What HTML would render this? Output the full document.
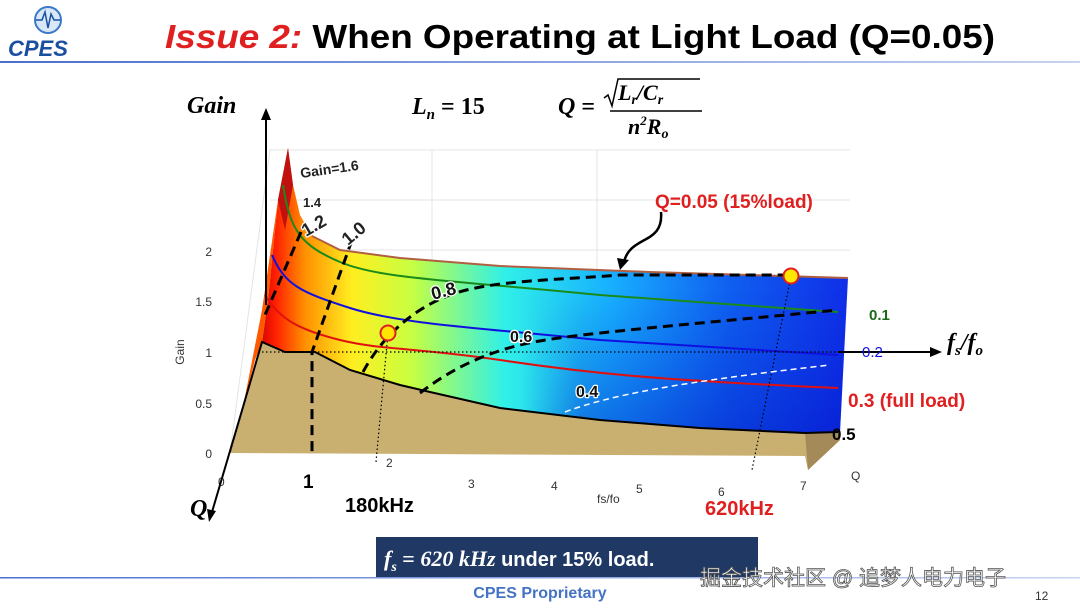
<!DOCTYPE html>
<html><head><meta charset="utf-8"><style>
body{margin:0;width:1080px;height:608px;background:#fff;overflow:hidden;font-family:"Liberation Sans",sans-serif}
</style></head><body>
<svg width="1080" height="608" viewBox="0 0 1080 608" xmlns="http://www.w3.org/2000/svg">
<defs>
<linearGradient id="sg" gradientUnits="userSpaceOnUse" x1="258" y1="0" x2="845" y2="0">
<stop offset="0" stop-color="#d00000"/><stop offset="0.03" stop-color="#ff2000"/>
<stop offset="0.08" stop-color="#ff9000"/><stop offset="0.16" stop-color="#ffee20"/>
<stop offset="0.26" stop-color="#c8ff40"/><stop offset="0.42" stop-color="#30f0e8"/>
<stop offset="0.6" stop-color="#18b0ff"/><stop offset="0.8" stop-color="#1060f0"/>
<stop offset="1" stop-color="#1030e8"/></linearGradient>
<linearGradient id="vg" gradientUnits="userSpaceOnUse" x1="0" y1="290" x2="0" y2="435">
<stop offset="0" stop-color="#0020d0" stop-opacity="0"/><stop offset="1" stop-color="#0010c0" stop-opacity="0.45"/></linearGradient>
<linearGradient id="hm" gradientUnits="userSpaceOnUse" x1="258" y1="0" x2="845" y2="0">
<stop offset="0" stop-color="#fff" stop-opacity="0"/><stop offset="0.45" stop-color="#fff" stop-opacity="0"/><stop offset="0.55" stop-color="#fff" stop-opacity="1"/><stop offset="1" stop-color="#fff" stop-opacity="1"/></linearGradient>
<mask id="mk"><rect x="0" y="0" width="1080" height="608" fill="url(#hm)"/></mask>
<linearGradient id="hl" x1="0" x2="1"><stop offset="0" stop-color="#4a6fd0"/><stop offset="1" stop-color="#c8d4f0"/></linearGradient>
</defs>
<rect x="0" y="61" width="1080" height="2" fill="url(#hl)"/>
<circle cx="48" cy="20" r="13" fill="#d8e8f8" stroke="#3a78c8" stroke-width="2"/>
<path d="M36 20 L42 20 L45 12 L48 28 L51 14 L54 20 L60 20" fill="none" stroke="#1a4fa0" stroke-width="1.5"/>
<text x="8" y="56" font-size="22" font-style="italic" fill="#1a4fa0" font-weight="bold">CPES</text>
<text x="165" y="48" font-size="33" font-weight="bold" textLength="830" lengthAdjust="spacingAndGlyphs"><tspan fill="#e02020" font-style="italic">Issue 2: </tspan><tspan fill="#000">When Operating at  Light Load (Q=0.05)</tspan></text>
<g font-family="Liberation Serif,serif" font-weight="bold" font-style="italic" font-size="24">
<text x="187" y="113">Gain</text>
<text x="412" y="114">L<tspan font-size="15" dy="5">n</tspan><tspan dy="-5" font-style="normal"> = 15</tspan></text>
<text x="558" y="114">Q <tspan font-style="normal">=</tspan></text>
<text x="618" y="100" font-size="22">L<tspan font-size="14" dy="4">r</tspan><tspan dy="-4">/C</tspan><tspan font-size="14" dy="4">r</tspan></text>
<text x="628" y="134" font-size="22">n<tspan font-size="13" dy="-9">2</tspan><tspan dy="9">R</tspan><tspan font-size="14" dy="4">o</tspan></text>
<text x="190" y="516">Q</text>
<text x="947" y="350">f<tspan font-size="15" dy="5">s</tspan><tspan dy="-5">/f</tspan><tspan font-size="15" dy="5">o</tspan></text>
</g>
<path d="M604 98 L608 95 L612 106 L618 79 L700 79" fill="none" stroke="#000" stroke-width="1.5"/>
<line x1="610" y1="111" x2="702" y2="111" stroke="#000" stroke-width="1.5"/>
<g stroke="#e4e4e4" stroke-width="1" fill="none">
<path d="M230 453 L270 150 L850 150"/><path d="M432 150 L432 280"/><path d="M597 150 L597 270"/><path d="M270 250 L850 250"/><path d="M270 200 L850 200"/>
</g>
<g font-size="12" fill="#333" text-anchor="end">
<text x="212" y="256">2</text><text x="212" y="306">1.5</text><text x="212" y="357">1</text><text x="212" y="408">0.5</text><text x="212" y="458">0</text>
</g>
<text x="184" y="352" font-size="12" fill="#333" transform="rotate(-90 184 352)" text-anchor="middle">Gain</text>
<g font-size="12" fill="#333">
<text x="218" y="486">0</text><text x="386" y="467">2</text><text x="468" y="488">3</text><text x="551" y="490">4</text><text x="636" y="493">5</text><text x="718" y="496">6</text><text x="800" y="490">7</text>
<text x="597" y="503">fs/fo</text><text x="851" y="480">Q</text>
</g>
<polygon points="230,453 243,407 262,342 285,352 315,352 350,370 400,385 430,392 500,408 600,420 700,428 805,433 838,410 840,440 808,470 805,456" fill="#c9b071"/>
<polygon points="805,433 838,410 840,440 808,470" fill="#a38a58"/>
<path d="M262,342 L268,300 L278,200 L288,148 L293,185 L300,215 L312,236 L340,250 L400,258 L500,266 L650,272 L848,278 L840,432 L805,433 L700,428 L600,420 L500,408 L430,392 L400,385 L350,370 L315,352 L285,352 Z" fill="url(#sg)"/>
<path d="M262,342 L268,300 L278,200 L288,148 L293,185 L300,215 L312,236 L340,250 L400,258 L500,266 L650,272 L848,278 L840,432 L805,433 L700,428 L600,420 L500,408 L430,392 L400,385 L350,370 L315,352 L285,352 Z" fill="url(#vg)" mask="url(#mk)"/>
<path d="M243,407 L255,360 L262,342 L268,300 L278,200 L262,310 Z" fill="#ff5a00"/>
<path d="M278,200 L288,148 L293,185 L285,230 Z" fill="#c01010"/>
<path d="M312,236 L340,250 L400,258 L500,266 L650,272 L848,278" fill="none" stroke="#b06040" stroke-width="2"/>
<path d="M243,407 L262,342 L285,352 L315,352 L350,370 L400,385 L430,392 L500,408 L600,420 L700,428 L805,433 L838,432" fill="none" stroke="#000" stroke-width="2"/>
<path d="M283,185 C290,230 300,245 340,262 S450,280 600,295 L838,312" fill="none" stroke="#1a8a1a" stroke-width="2"/>
<path d="M272,255 C285,285 300,292 350,308 S480,328 600,340 L838,355" fill="none" stroke="#1010e0" stroke-width="2"/>
<path d="M265,295 C280,320 300,330 340,340 S420,348 500,360 S650,380 838,388" fill="none" stroke="#e01010" stroke-width="2"/>
<g stroke="#000" stroke-width="1.2" stroke-dasharray="1.5,2.5" fill="none">
<line x1="262" y1="352" x2="838" y2="352"/><line x1="388" y1="333" x2="376" y2="462"/><line x1="791" y1="276" x2="752" y2="470"/>
<line x1="262" y1="342" x2="230" y2="453"/>
</g>
<g fill="none" stroke="#000" stroke-width="3" stroke-dasharray="10,6">
<path d="M301,232 L265,315"/><path d="M352,240 L312,352 L312,456"/>
<path d="M363,372 C380,340 410,310 450,295 S560,280 620,275 L790,275"/>
<path d="M420,393 C450,370 480,355 520,345 S650,328 838,310"/>
</g>
<path d="M565,412 C610,395 680,382 830,365" fill="none" stroke="#fff" stroke-width="1.5" stroke-dasharray="6,4"/>
<circle cx="388" cy="333" r="7.5" fill="#ffe600" stroke="#e02020" stroke-width="2"/>
<circle cx="791" cy="276" r="7.5" fill="#ffe600" stroke="#e02020" stroke-width="2"/>
<line x1="266" y1="305" x2="266" y2="118" stroke="#000" stroke-width="2"/>
<polygon points="266,108 261,120 271,120" fill="#000"/>
<line x1="243" y1="407" x2="212" y2="512" stroke="#000" stroke-width="2"/>
<polygon points="209,522 207,509 216,511" fill="#000"/>
<line x1="838" y1="352" x2="932" y2="352" stroke="#000" stroke-width="2"/>
<polygon points="942,352 930,347 930,357" fill="#000"/>
<path d="M661,212 C664,245 630,235 624,262" fill="none" stroke="#000" stroke-width="2.5"/>
<polygon points="620,270 617,258 629,260" fill="#000"/>
<g font-weight="bold" paint-order="stroke" stroke="#fff" stroke-width="2.5" stroke-linejoin="round">
<text x="301" y="178" font-size="14" fill="#222" stroke="none" transform="rotate(-8 301 178)">Gain=1.6</text>
<text x="303" y="207" font-size="13" fill="#222" stroke="none">1.4</text>
<text x="306" y="237" font-size="18" fill="#222" transform="rotate(-30 306 237)">1.2</text>
<text x="348" y="246" font-size="18" fill="#222" transform="rotate(-40 348 246)">1.0</text>
<text x="433" y="300" font-size="18" fill="#111" transform="rotate(-15 433 300)">0.8</text>
<text x="510" y="342" font-size="16" fill="#111">0.6</text>
<text x="576" y="397" font-size="16" fill="#111">0.4</text>
</g>
<g font-weight="bold">
<text x="655" y="208" font-size="19" fill="#e02020">Q=0.05 (15%load)</text>
<text x="869" y="320" font-size="15" fill="#1a6a1a">0.1</text>
<text x="862" y="357" font-size="15" fill="#1010e0" font-weight="normal">0.2</text>
<text x="848" y="407" font-size="19" fill="#e02020">0.3 (full load)</text>
<text x="832" y="440" font-size="17" fill="#000">0.5</text>
<text x="303" y="488" font-size="19" fill="#000">1</text>
<text x="345" y="512" font-size="20" fill="#000">180kHz</text>
<text x="705" y="515" font-size="20" fill="#e02020">620kHz</text>
</g>
<rect x="0" y="577" width="1080" height="1.5" fill="url(#hl)"/>
<rect x="376" y="537" width="382" height="40" fill="#1f3864"/>
<text x="384" y="566" fill="#fff" font-size="22" font-weight="bold"><tspan font-family="Liberation Serif,serif" font-style="italic">f<tspan font-size="14" dy="5">s</tspan><tspan dy="-5" font-style="normal"> = </tspan>620 kHz</tspan><tspan font-size="20">  under 15% load.</tspan></text>
<text x="540" y="598" font-size="16" font-weight="bold" fill="#4472c4" text-anchor="middle">CPES Proprietary</text>
<text x="700" y="585" font-size="21" fill="#fff" stroke="#555" stroke-width="0.8" font-family="Liberation Sans,Noto Sans CJK SC,sans-serif">掘金技术社区 @ 追梦人电力电子</text>
<text x="1035" y="600" font-size="12" fill="#333">12</text>
</svg>
</body></html>
